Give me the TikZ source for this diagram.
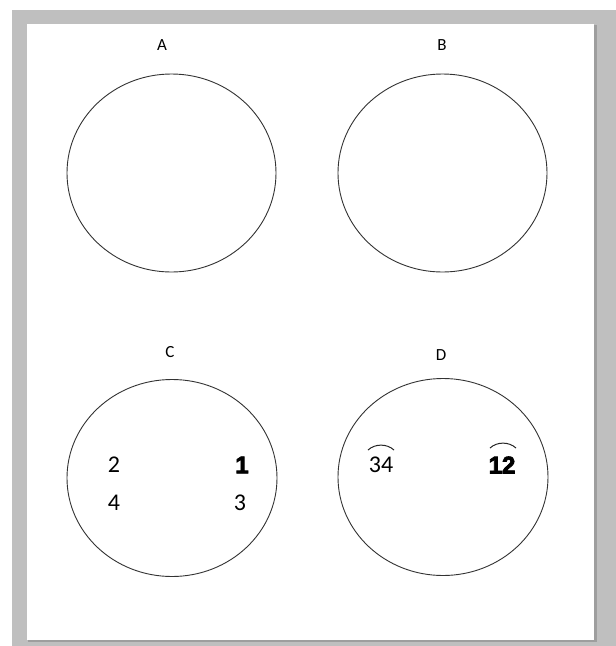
\documentclass[tikz,border=0pt]{standalone}
\usepackage{fontspec}
\usetikzlibrary{shapes.geometric}
\setmainfont{Carlito}
\newfontfamily\heavyfont[FakeBold=3.5]{Liberation Sans Bold}
\begin{document}
\begin{tikzpicture}[x=1pt,y=-1pt,
  ring/.style={draw=black!80,line width=0.9pt,ellipse,inner sep=0pt},
  lbl/.style={font=\fontsize{17}{19}\selectfont},
  num/.style={font=\fontsize{24}{27}\selectfont},
  bnum/.style={font=\fontsize{24}{27}\heavyfont},
  hat/.style={draw=black!85,line width=1pt}]
\useasboundingbox (0,0) rectangle (616,646);
\fill[white] (0,0) rectangle (616,646);
\fill[black!25] (12,10) rectangle (616,646);
\fill[black!38] (28,25) rectangle (597,642);
\fill[white] (27,24) rectangle (594,640);
% circles
\node[ring,minimum width=209pt,minimum height=198pt] (A) at (171.5,173) {};
\node[ring,minimum width=209pt,minimum height=198pt] (B) at (442.5,173) {};
\node[ring,minimum width=210pt,minimum height=197pt] (C) at (172,478) {};
\node[ring,minimum width=210pt,minimum height=197pt] (D) at (443,477) {};
% labels
\node[lbl] (la) at (162,45) {A};
\node[lbl] (lb) at (442,45) {B};
\node[lbl] (lc) at (170,352) {C};
\node[lbl] (ld) at (441,355) {D};
% numbers in C
\node[num] (n2) at (114,465) {2};
\node[bnum] (n1) at (242,465) {1};
\node[num] (n4) at (114,503) {4};
\node[num] (n3) at (240,503) {3};
% D
\node[num,inner sep=0pt] (n34) at (381,465) {34};
\node[bnum,inner sep=0pt] (n12) at (502,465) {12};
\coordinate (h1a) at (368,450); \coordinate (h1b) at (394,450);
\coordinate (h2a) at (490,448); \coordinate (h2b) at (516,448);
\draw[hat] (h1a) .. controls (375,443.5) and (387,443.5) .. (h1b);
\draw[hat] (h2a) .. controls (497,441.5) and (509,441.5) .. (h2b);
\end{tikzpicture}
\end{document}
